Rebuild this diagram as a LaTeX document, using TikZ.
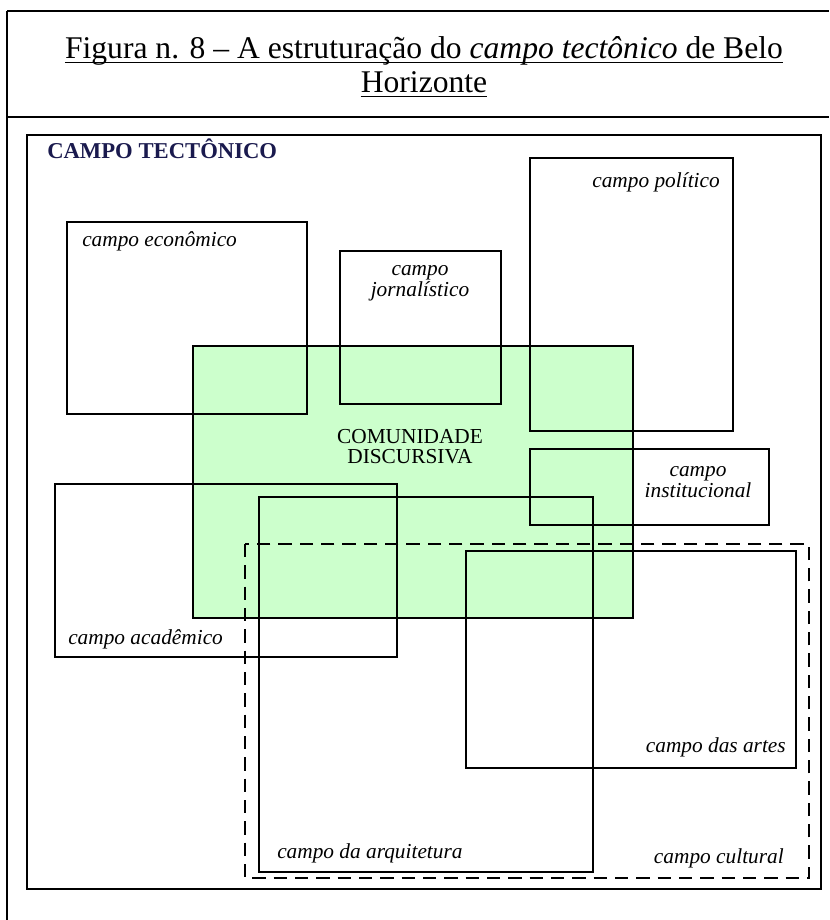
\documentclass[tikz,border=0pt]{standalone}
\usepackage{fontspec}
\setmainfont{Liberation Serif}
\usepackage{tikz}
\definecolor{discgreen}{HTML}{CCFFCC}
\definecolor{tectblue}{HTML}{1A1A4E}
\tikzstyle{rule}=[draw=black, line width=2.2pt]
\tikzstyle{field}=[draw=black, line width=1.3pt]
\tikzstyle{cultfield}=[draw=black, line width=1.3pt, dash pattern=on 10pt off 6pt]
\tikzstyle{title}=[inner sep=0pt, font=\fontsize{23.7}{28}\selectfont]
\tikzstyle{lbl}=[inner sep=0pt, align=center, font=\fontsize{16}{15.75}\selectfont\itshape]

\begin{document}
\begin{tikzpicture}[x=0.75pt,y=-0.75pt]
\useasboundingbox (0,0) rectangle (829,920);
% table round the figure
\draw[rule] (7,11) -- (829,11);
\draw[rule] (7,117) -- (829,117);
\draw[rule] (7,11) -- (7,920);
\node[title, anchor=base] (tit1) at (424,59) {Figura n. 8 – A estruturação do \textit{campo tectônico} de Belo};
\node[title, anchor=base] (tit2) at (424,93) {Horizonte};
\draw[line width=1.2pt] ([yshift=-2.6pt]tit1.base west) -- ([yshift=-2.6pt]tit1.base east);
\draw[line width=1.2pt] ([yshift=-2.6pt]tit2.base west) -- ([yshift=-2.6pt]tit2.base east);
% tectonic field
\draw[field] (27,135) rectangle (821,889);
\node[inner sep=0pt, anchor=base west, text=tectblue, font=\fontsize{17}{20}\selectfont\bfseries] (tect) at (47,158) {CAMPO TECTÔNICO};
% discursive community
\filldraw[field, fill=discgreen] (193,346) rectangle (633,618);
\node[inner sep=0pt, anchor=base, align=center, font=\fontsize{16}{15}\selectfont] (disc) at (410,463) {COMUNIDADE\\DISCURSIVA};
% fields
\draw[field] (67,222) rectangle (307,414);
\node[lbl, anchor=base west] (econ) at (82,246) {campo econômico};
\draw[field] (340,251) rectangle (501,404);
\node[lbl, anchor=base] (jorn) at (420,296) {campo\\jornalístico};
\draw[field] (530,158) rectangle (733,431);
\node[lbl, anchor=base east] (pol) at (720,187) {campo político};
\draw[field] (530,449) rectangle (769,525);
\node[lbl, anchor=base] (inst) at (698,497) {campo\\institucional};
\draw[field] (55,484) rectangle (397,657);
\node[lbl, anchor=base west] (acad) at (68,644) {campo acadêmico};
\draw[field] (259,497) rectangle (593,872);
\node[lbl, anchor=base west] (arq) at (277,858) {campo da arquitetura};
\draw[cultfield] (245,544) rectangle (809,878);
\node[lbl, anchor=base east] (cult) at (784,863) {campo cultural};
\draw[field] (466,551) rectangle (796,768);
\node[lbl, anchor=base east] (artes) at (786,752) {campo das artes};
\end{tikzpicture}
\end{document}
